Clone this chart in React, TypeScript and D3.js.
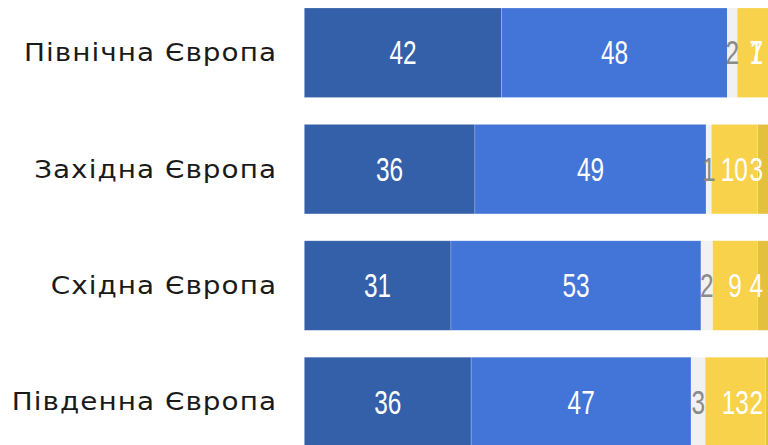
import React from "react";
import * as d3 from "d3";

const categories = ["Північна Європа", "Західна Європа", "Східна Європа", "Південна Європа"];
const seriesKeys = ["s1", "s2", "s3", "s4", "s5"];
const s1 = [42.0, 36.3, 31.2, 35.5];
const s2 = [48.0, 49.2, 53.2, 46.8];
const s3 = [2.1, 1.1, 2.49, 3.0];
const s4 = [7.0, 9.8, 9.49, 12.8];
const s5 = [0.9, 3.4, 3.5, 2.0];
const colors = ["#3460A9", "#4374D8", "#F1F1F1", "#F8D24B", "#E5C03F"];
const labelColors = ["#ffffff", "#ffffff", "#8a8a8a", "#ffffff", "#ffffff"];

const W = 768;
const H = 445;

export default function App() {
  const rows = categories.map((c, i) => ({
    cat: c,
    s1: s1[i],
    s2: s2[i],
    s3: s3[i],
    s4: s4[i],
    s5: s5[i],
  }));
  const stack = d3.stack<any>().keys(seriesKeys)(rows);
  const x = d3.scaleLinear().domain([0, 100]).range([304.3, 774.3]);
  const y = d3
    .scaleBand<string>()
    .domain(categories)
    .range([-5.45, 460.15])
    .paddingInner(0.231)
    .paddingOuter(0.1155);
  const bw = y.bandwidth();
  const edge = 763;

  return (
    <svg
      width={W}
      height={H}
      style={{ position: "absolute", left: 0, top: 0, overflow: "hidden" }}
    >
      {stack.map((layer, si) => (
        <g key={si}>
          {layer.map((d, i) => (
            <rect
              key={i}
              x={x(d[0])}
              y={y(categories[i])}
              width={x(d[1]) - x(d[0])}
              height={bw}
              fill={colors[si]}
              stroke="#ffffff"
              strokeOpacity={0.35}
              strokeWidth={0.6}
            />
          ))}
        </g>
      ))}
      {stack.map((layer, si) => (
        <g key={"l" + si}>
          {layer.map((d, i) => {
            const cx = (x(d[0]) + x(d[1])) / 2;
            const clamp = x(d[1]) > W;
            const cy = (y(categories[i]) as number) + bw / 2;
            return (
              <g key={i} transform={`translate(${clamp ? edge : cx},${cy}) scale(0.74,1)`}>
                <text
                  x={0}
                  y={0}
                  dy="0.35em"
                  textAnchor={clamp ? "end" : "middle"}
                  fill={labelColors[si]}
                  style={{
                    fontFamily: "'Liberation Sans', Arial, sans-serif",
                    fontSize: 33,
                  }}
                >
                  {Math.round(d[1] - d[0])}
                </text>
              </g>
            );
          })}
        </g>
      ))}
      {categories.map((c) => (
        <g key={c} transform={`translate(277,${(y(c) as number) + bw / 2}) scale(1.16,1)`}>
          <text
            x={0}
            y={0}
            dy="0.35em"
            textAnchor="end"
            fill="#1a1a1a"
            style={{ fontFamily: "'DejaVu Sans', sans-serif", fontSize: 24, letterSpacing: 0.9 }}
          >
            {c}
          </text>
        </g>
      ))}
    </svg>
  );
}
